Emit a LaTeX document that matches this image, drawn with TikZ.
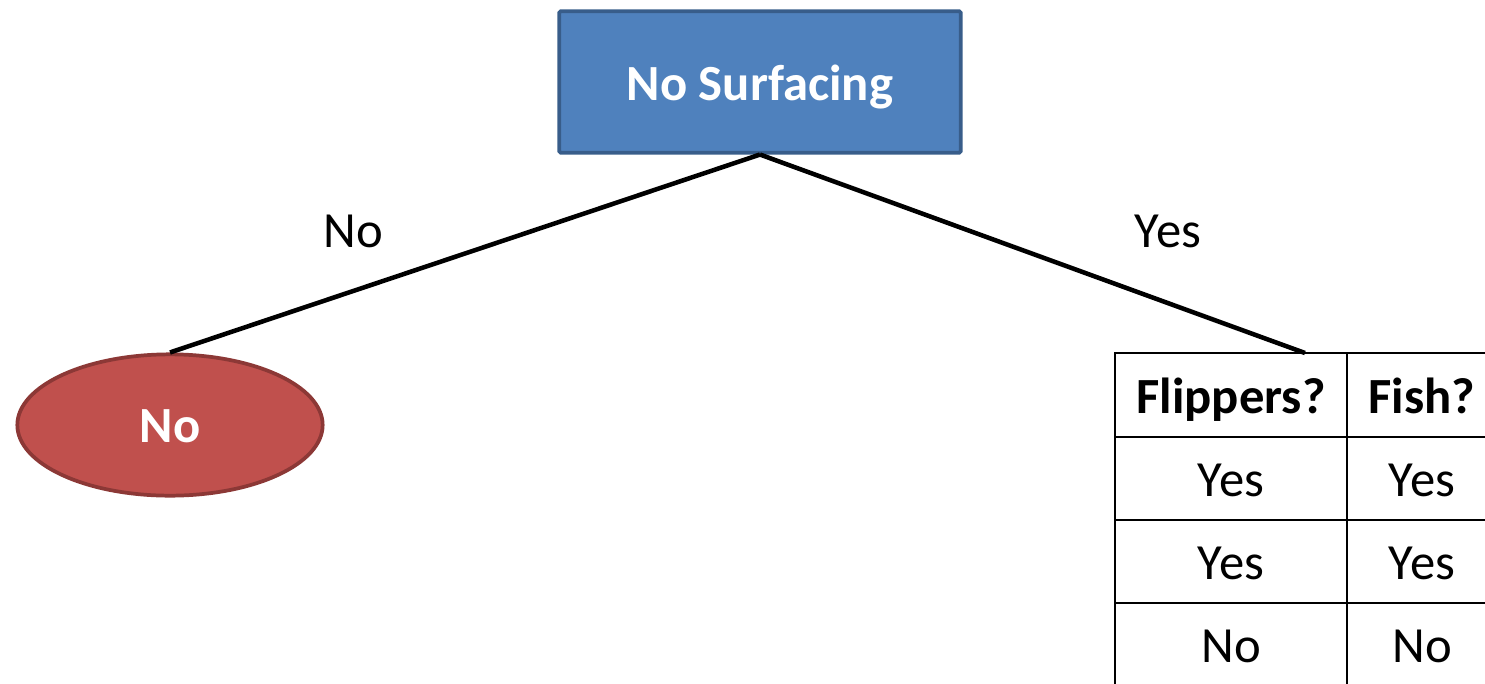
\documentclass[tikz,border=0pt]{standalone}
\usepackage{fontspec}
\setmainfont{Carlito}
\usetikzlibrary{shapes.geometric}
\definecolor{rootfill}{HTML}{4F81BD}
\definecolor{rootdraw}{HTML}{385D8A}
\definecolor{leaffill}{HTML}{C0504D}
\definecolor{leafdraw}{HTML}{8C3836}
\tikzset{
  rootbox/.style={rectangle, fill=rootfill, draw=rootdraw, line width=2.8pt, rounded corners=1pt,
    minimum width=301pt, minimum height=106pt, inner sep=0pt, text=white, font=\fontsize{38}{44}\selectfont\bfseries,
    text height=27pt, text depth=0pt},
  leafnode/.style={ellipse, fill=leaffill, draw=leafdraw, line width=2.8pt,
    minimum width=229pt, minimum height=106pt, inner sep=0pt, text=white, font=\fontsize{38}{44}\selectfont\bfseries,
    text height=25.5pt, text depth=0pt},
  edge/.style={line width=3.4pt, black},
  elabel/.style={font=\fontsize{38}{44}\selectfont, inner sep=0pt, anchor=base},
  cell/.style={font=\fontsize{38}{44}\selectfont, inner sep=0pt, anchor=base},
  hcell/.style={font=\fontsize{38}{44}\selectfont\bfseries, inner sep=0pt, anchor=base},
  grid/.style={line width=2pt, black},
}
\begin{document}
\begin{tikzpicture}[x=0.75pt, y=-0.75pt]
\useasboundingbox (0,0) rectangle (1485,683);
\clip (0,0) rectangle (1485,683);
\node[rootbox] (root) at (760,82) {No Surfacing};
\node[leafnode] (leaf) at (170,425) {No};
\coordinate (tbl) at (1305,353);
\draw[edge] (root.south) -- (leaf.north);
\draw[edge] (root.south) -- (tbl);
\node[elabel] (lno) at (353,247) {No};
\node[elabel] (lyes) at (1168,247) {Yes};
% table
\draw[grid] (1115,700) -- (1115,353) -- (1500,353);
\draw[grid] (1347,353) -- (1347,700);
\draw[grid] (1115,437) -- (1500,437);
\draw[grid] (1115,520) -- (1500,520);
\draw[grid] (1115,603) -- (1500,603);
\node[hcell] (h1) at (1231,413) {Flippers?};
\node[hcell] (h2) at (1422,413) {Fish?};
\node[cell] (a1) at (1231,496) {Yes};
\node[cell] (b1) at (1422,496) {Yes};
\node[cell] (a2) at (1231,579) {Yes};
\node[cell] (b2) at (1422,579) {Yes};
\node[cell] (a3) at (1231,662) {No};
\node[cell] (b3) at (1422,662) {No};
\end{tikzpicture}
\end{document}
